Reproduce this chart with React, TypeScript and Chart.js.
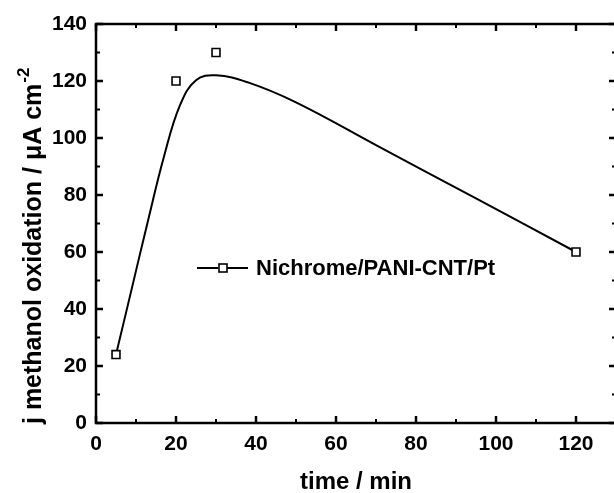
import { useEffect, useRef } from 'react';
import { Chart, registerables } from 'chart.js';

Chart.register(...registerables);

// Measured points
const measuredTimes = [5, 20, 30, 120];
const measuredCurrents = [24, 120, 130, 60];

// Fitted curve
const fitTimes = [5, 9, 13, 17, 21, 25, 30, 38, 50, 70, 95, 120];
const fitCurrents = [24, 47.5, 71, 93.5, 111.5, 120.3, 122, 119.5, 112.5, 97.5, 78.8, 60];

// Axis ticks
const xMajorTicks = [0, 20, 40, 60, 80, 100, 120];
const xMinorTicks = [10, 30, 50, 70, 90, 110];
const yMajorTicks = [0, 20, 40, 60, 80, 100, 120, 140];
const yMinorTicks = [10, 30, 50, 70, 90, 110, 130];

const seriesLabel = 'Nichrome/PANI-CNT/Pt';
const xTitle = 'time / min';
const yTitleMain = 'j methanol oxidation / \u03BCA cm';
const yTitleSup = '-2';

const FONT = '"Liberation Sans", Arial, sans-serif';

const framePlugin = {
  id: 'frame',
  afterDraw(chart: any) {
    const { ctx, chartArea: a, scales } = chart;
    const x = scales.x;
    const y = scales.y;
    ctx.save();
    ctx.strokeStyle = '#000';
    ctx.fillStyle = '#000';
    ctx.lineCap = 'butt';

    // frame
    ctx.lineWidth = 2.5;
    ctx.strokeRect(a.left, a.top, a.right - a.left, a.bottom - a.top);

    // inward ticks
    const drawX = (vals: number[], len: number) => {
      vals.forEach((v) => {
        const px = x.getPixelForValue(v);
        ctx.beginPath();
        ctx.moveTo(px, a.bottom);
        ctx.lineTo(px, a.bottom - len);
        ctx.moveTo(px, a.top);
        ctx.lineTo(px, a.top + len);
        ctx.stroke();
      });
    };
    const drawY = (vals: number[], len: number) => {
      vals.forEach((v) => {
        const py = y.getPixelForValue(v);
        ctx.beginPath();
        ctx.moveTo(a.left, py);
        ctx.lineTo(a.left + len, py);
        ctx.moveTo(a.right, py);
        ctx.lineTo(a.right - len, py);
        ctx.stroke();
      });
    };
    ctx.lineWidth = 2.5;
    drawX(xMajorTicks, 7);
    drawY(yMajorTicks, 7);
    ctx.lineWidth = 2;
    drawX(xMinorTicks, 4);
    drawY(yMinorTicks, 4);

    // legend
    const lx = a.left + 101;
    const ly = a.top + 244;
    ctx.lineWidth = 2;
    ctx.beginPath();
    ctx.moveTo(lx, ly);
    ctx.lineTo(lx + 21, ly);
    ctx.moveTo(lx + 30, ly);
    ctx.lineTo(lx + 51, ly);
    ctx.stroke();
    ctx.lineWidth = 1.6;
    ctx.strokeRect(lx + 22, ly - 4, 8, 8);
    ctx.font = `bold 22px ${FONT}`;
    ctx.textAlign = 'left';
    ctx.textBaseline = 'middle';
    ctx.fillText(seriesLabel, lx + 59, ly + 1);

    // x title
    ctx.font = `bold 24px ${FONT}`;
    ctx.textAlign = 'center';
    ctx.textBaseline = 'alphabetic';
    ctx.fillText(xTitle, (a.left + a.right) / 2, 489);

    // y title with superscript
    ctx.translate(41, a.bottom + 1);
    ctx.rotate(-Math.PI / 2);
    ctx.textAlign = 'left';
    ctx.font = `bold 25px ${FONT}`;
    ctx.fillText(yTitleMain, 0, 0);
    const w = ctx.measureText(yTitleMain).width;
    ctx.font = `bold 17px ${FONT}`;
    ctx.fillText(yTitleSup, w + 1, -12);
    ctx.restore();
  },
};

export default function App() {
  const ref = useRef<HTMLCanvasElement | null>(null);

  useEffect(() => {
    if (!ref.current) return;
    const chart = new Chart(ref.current, {
      type: 'scatter',
      data: {
        datasets: [
          {
            label: 'fit',
            data: fitTimes.map((t, i) => ({ x: t, y: fitCurrents[i] })),
            showLine: true,
            borderColor: '#000',
            borderWidth: 2,
            pointRadius: 0,
            tension: 0.4,
            cubicInterpolationMode: 'default',
            order: 2,
          } as any,
          {
            label: seriesLabel,
            data: measuredTimes.map((t, i) => ({ x: t, y: measuredCurrents[i] })),
            showLine: false,
            pointStyle: 'rect',
            pointRadius: 5.6,
            pointBorderWidth: 1.6,
            pointBorderColor: '#000',
            pointBackgroundColor: '#fff',
            order: 1,
          } as any,
        ],
      },
      options: {
        responsive: false,
        animation: false,
        layout: { padding: { top: 24, right: 24, left: 0, bottom: 0 } },
        plugins: {
          legend: { display: false },
          tooltip: { enabled: false },
        },
        scales: {
          x: {
            type: 'linear',
            min: 0,
            max: 130,
            grid: { display: false, drawTicks: false },
            border: { display: false },
            afterBuildTicks: (s: any) => {
              s.ticks = xMajorTicks.map((v) => ({ value: v }));
            },
            afterFit: (s: any) => {
              s.height = 70;
            },
            ticks: {
              color: '#000',
              padding: 9,
              maxRotation: 0,
              autoSkip: false,
              font: { family: FONT, size: 21, weight: 'bold' },
            },
          },
          y: {
            type: 'linear',
            min: 0,
            max: 140,
            grid: { display: false, drawTicks: false },
            border: { display: false },
            afterBuildTicks: (s: any) => {
              s.ticks = yMajorTicks.map((v) => ({ value: v }));
            },
            afterFit: (s: any) => {
              s.width = 96;
            },
            ticks: {
              color: '#000',
              padding: 9,
              autoSkip: false,
              font: { family: FONT, size: 21, weight: 'bold' },
            },
          },
        },
      },
      plugins: [framePlugin],
    });
    return () => chart.destroy();
  }, []);

  return (
    <div
      style={{
        position: 'absolute',
        left: 0,
        top: 0,
        width: 614,
        height: 493,
        overflow: 'hidden',
        background: '#fff',
      }}
    >
      <canvas ref={ref} width={640} height={493} style={{ display: 'block' }} />
    </div>
  );
}
